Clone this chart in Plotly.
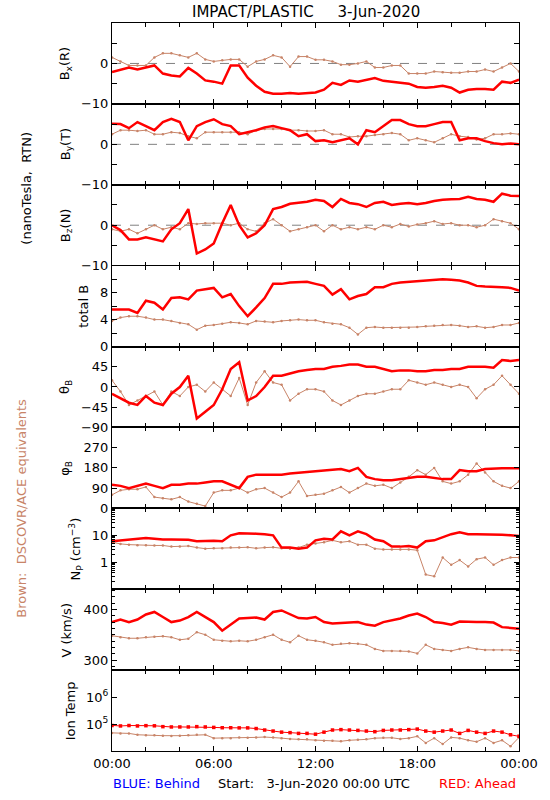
import plotly.graph_objects as go
from plotly.subplots import make_subplots

# ---------------- data (30-minute samples) -------------
HOURS = [i / 2 for i in range(49)]
X_TICKS = [0, 6, 12, 18, 24]
X_LABELS = ["00:00", "06:00", "12:00", "18:00", "00:00"]
X_MINOR = [2, 4, 8, 10, 14, 16, 20, 22]

BX_RED = [-2.1, -1.5, -1.0, -1.5, -1.0, -0.5, -2.5, -3.0, -3.2, -1.1,
          -2.5, -4.2, -4.5, -5.0, -0.5, -0.5, -3.5, -5.5, -7.0, -7.5,
          -7.5, -7.3, -7.5, -7.4, -7.2, -6.5, -4.8, -5.3, -4.2, -4.5,
          -4.0, -3.6, -4.3, -4.5, -4.8, -5.0, -5.8, -6.0, -5.8, -5.5,
          -6.0, -7.2, -6.5, -6.3, -6.3, -6.5, -4.5, -4.8, -4.0]
BX_BRN = [1.5, 0.5, -0.5, -0.5, -0.5, 1.5, 2.5, 2.5, 2.0, 1.5,
          2.5, 1.0, 0.5, 0.8, 1.0, 1.0, -0.8, 0.5, 1.0, 2.0,
          1.5, -0.8, 1.7, 1.7, 0.9, 0.9, 0.5, -0.3, -0.3, 0.0,
          0.5, -1.0, -1.0, -0.5, -0.5, -2.5, -2.5, -2.5, -2.0, -2.2,
          -2.3, -2.3, -2.0, -2.0, -1.5, -2.0, -1.0, 0.0, -2.0]

BY_RED = [5.1, 5.0, 4.0, 5.5, 4.5, 3.5, 5.5, 6.3, 5.5, 1.0,
          4.5, 5.5, 6.2, 5.0, 4.5, 2.5, 3.0, 3.5, 4.2, 4.5,
          4.0, 3.5, 2.0, 2.5, 0.8, 1.0, 0.5, 1.0, 1.5, 0.0,
          3.5, 3.0, 4.5, 6.0, 6.0, 5.0, 4.5, 4.5, 5.0, 5.5,
          5.5, 1.0, 1.5, 1.5, 0.8, 0.3, 0.0, 0.2, 0.0]
BY_BRN = [2.5, 3.5, 3.5, 3.3, 3.5, 2.5, 2.5, 3.0, 2.8, 2.0,
          1.5, 3.0, 3.0, 3.0, 3.0, 3.0, 2.5, 3.5, 3.8, 3.8,
          3.8, 3.5, 3.5, 3.3, 3.3, 3.5, 2.5, 2.5, 1.8, 2.0,
          2.0, 2.3, 2.5, 2.8, 2.5, 1.0, 1.5, 1.0, 0.5, 1.5,
          2.5, 2.0, 1.8, 1.2, 1.5, 2.5, 2.5, 2.7, 2.5]

BZ_RED = [0.0, -1.2, -3.5, -3.5, -3.0, -3.5, -4.0, -1.0, 0.5, 4.0,
          -7.0, -6.0, -4.5, 0.5, 5.0, 0.0, -3.0, -2.0, 0.0, 4.0,
          4.5, 5.3, 5.5, 5.8, 6.3, 6.0, 4.5, 6.5, 5.5, 5.2,
          4.5, 5.5, 5.8, 5.0, 5.3, 5.5, 5.2, 5.5, 6.0, 6.3,
          6.4, 6.5, 7.0, 6.5, 6.3, 5.8, 7.8, 7.3, 7.2]
BZ_BRN = [-1.0, -1.5, -1.0, -2.0, -1.0, 0.0, -1.0, -0.5, -1.0, 0.5,
          0.3, 0.5, 0.5, 0.5, 0.0, 0.5, -1.0, -1.5, 0.5, 1.5,
          0.0, -1.5, -1.0, -0.5, 0.0, -1.5, 0.0, -1.0, -0.5, -1.0,
          -0.5, -1.0, 0.0, -0.5, 0.3, -0.3, 0.2, 0.5, 1.0, 0.3,
          0.5, 0.0, 0.0, -0.5, 0.0, 1.5, 1.0, 0.5, -1.0]

BT_RED = [5.5, 5.5, 5.5, 5.0, 6.8, 6.5, 5.5, 7.2, 7.3, 7.0,
          8.3, 8.5, 8.7, 7.3, 7.8, 6.0, 4.5, 5.8, 7.2, 9.3,
          9.3, 9.5, 9.6, 9.6, 9.3, 9.0, 7.7, 8.5, 7.0, 7.5,
          7.8, 8.8, 8.8, 9.3, 9.5, 9.6, 9.6, 9.8, 9.8, 10.0,
          9.9, 9.8, 9.5, 9.0, 8.9, 8.9, 8.8, 8.7, 8.3]
BT_BRN = [3.8, 4.3, 4.5, 4.5, 4.3, 4.0, 4.0, 3.8, 3.5, 3.3,
          2.5, 3.1, 3.2, 3.4, 3.6, 3.5, 3.3, 3.8, 3.7, 3.6,
          3.8, 3.9, 4.0, 3.9, 3.9, 3.6, 3.4, 3.3, 2.8, 1.8,
          2.8, 2.9, 2.8, 2.8, 2.8, 2.8, 2.9, 3.0, 3.1, 3.2,
          3.2, 3.1, 2.9, 3.0, 2.8, 2.9, 3.2, 3.2, 3.5]

TH_RED = [-15, -25, -35, -40, -20, -35, -40, -15, 0, 25,
          -70, -55, -40, -5, 40, 55, -30, -20, 0, 25,
          25, 30, 35, 38, 40, 40, 45, 47, 50, 50,
          45, 45, 40, 35, 37, 37, 35, 35, 38, 38,
          40, 40, 45, 45, 45, 43, 60, 58, 60]
TH_BRN = [15, -10, -40, -30, -20, -10, -40, -10, -20, 0,
          5, -10, 10, -5, -20, 20, -40, 10, 35, 10,
          5, -30, -15, -5, -5, -10, -30, -40, -30, -20,
          -15, -15, -10, -5, -5, 15, 10, 5, 10, 5,
          0, 5, 0, -25, -5, 5, 25, 5, -15]

PH_RED = [105, 100, 90, 100, 110, 100, 90, 105, 105, 110,
          110, 115, 120, 120, 105, 90, 140, 150, 150, 150,
          150, 155, 160, 162, 165, 170, 172, 175, 165, 180,
          140, 130, 125, 125, 130, 135, 140, 140, 135, 130,
          130, 170, 165, 165, 175, 178, 178, 178, 178]
PH_BRN = [60, 80, 85, 85, 95, 50, 45, 40, 50, 30,
          20, 10, 70, 80, 80, 90, 70, 85, 90, 70,
          50, 70, 120, 55, 60, 65, 80, 95, 70, 90,
          110, 100, 105, 90, 115, 140, 170, 150, 180, 120,
          110, 120, 150, 200, 160, 120, 100, 90, 120]

NP_RED = [6.0, 6.5, 7.0, 7.5, 8.0, 7.5, 7.0, 7.0, 7.0, 6.8,
          6.0, 6.3, 6.3, 6.0, 10.0, 12.0, 12.0, 11.5, 11.0, 10.0,
          3.5, 3.5, 3.2, 3.5, 6.5, 7.5, 7.0, 14.0, 10.0, 14.0,
          11.0, 7.0, 6.0, 3.8, 3.8, 4.0, 3.5, 6.0, 6.5, 8.5,
          11.0, 13.0, 11.0, 11.0, 11.0, 11.0, 10.5, 10.0, 9.5]
NP_BRN = [5.5, 4.8, 4.5, 4.3, 4.3, 4.2, 4.2, 3.8, 3.8, 4.0,
          3.5, 3.2, 3.3, 3.3, 3.5, 3.5, 3.6, 3.3, 3.5, 3.6,
          3.3, 3.2, 3.5, 4.5, 5.0, 5.5, 6.5, 5.5, 6.0, 4.5,
          4.5, 3.2, 3.0, 3.0, 3.0, 3.0, 2.8, 0.35, 0.3, 1.5,
          0.8, 1.2, 0.7, 1.3, 1.5, 0.8, 1.2, 1.5, 1.5]

V_RED = [375, 380, 375, 380, 390, 395, 385, 375, 378, 385,
         395, 385, 375, 358, 370, 382, 383, 384, 380, 395,
         398, 390, 383, 382, 385, 375, 372, 373, 374, 375,
         370, 368, 375, 378, 382, 388, 392, 385, 375, 373,
         370, 376, 375, 375, 375, 374, 365, 364, 362]
V_BRN = [348, 345, 343, 343, 345, 346, 347, 345, 340, 342,
         355, 350, 340, 338, 337, 338, 337, 340, 345, 350,
         340, 335, 348, 340, 338, 335, 330, 332, 333, 332,
         330, 322, 318, 318, 318, 317, 313, 330, 322, 320,
         318, 322, 325, 322, 320, 320, 320, 320, 318]

T_RED = [89000, 85000, 88000, 85000, 87000, 86000, 80000, 78000, 78000, 78000,
         80000, 78000, 75000, 73000, 73000, 72000, 72000, 68000, 60000, 55000,
         50000, 48000, 45000, 45000, 42000, 50000, 60000, 62000, 60000, 58000,
         55000, 52000, 58000, 60000, 60000, 62000, 65000, 55000, 50000, 55000,
         60000, 45000, 58000, 50000, 45000, 55000, 50000, 40000, 35000]
T_BRN = [47000, 45000, 45000, 40000, 38000, 38000, 37000, 36000, 37000, 38000,
         40000, 40000, 30000, 30000, 30000, 32000, 31000, 32000, 33000, 32000,
         30000, 28000, 27000, 27000, 25000, 24000, 24000, 23000, 25000, 26000,
         27000, 30000, 31000, 31000, 28000, 30000, 35000, 20000, 30000, 18000,
         32000, 30000, 25000, 22000, 30000, 20000, 25000, 15000, 32000]

PANEL_TITLES = ["B<sub>x</sub>(R)", "B<sub>y</sub>(T)", "B<sub>z</sub>(N)", "total B",
                "θ<sub>B</sub>", "φ<sub>B</sub>", "N<sub>P</sub> (cm<sup>−3</sup>)",
                "V (km/s)", "Ion Temp"]

# ---------------- styling ----------------
RED = "#FF0000"
BRN = "rgb(200,132,104)"
FONT = "DejaVu Sans"
W, H = 550, 800
ML, MR, MT, MB = 112, 23, 23, 49
PW = W - ML - MR
PH = H - MT - MB

panels = [
    dict(red=BX_RED, brn=BX_BRN, rng=[-10, 10], tv=[-10, 0], tt=["−10", "0"], minor=[-5, 5, 10], zero=True, tx=65),
    dict(red=BY_RED, brn=BY_BRN, rng=[-10, 10], tv=[-10, 0], tt=["−10", "0"], minor=[-5, 5, 10], zero=True, tx=65),
    dict(red=BZ_RED, brn=BZ_BRN, rng=[-10, 10], tv=[-10, 0], tt=["−10", "0"], minor=[-5, 5, 10], zero=True, tx=65),
    dict(red=BT_RED, brn=BT_BRN, rng=[0, 12], tv=[0, 4, 8], tt=["0", "4", "8"], minor=[2, 6, 10], tx=83),
    dict(red=TH_RED, brn=TH_BRN, rng=[-90, 90], tv=[-90, -45, 0, 45], tt=["−90", "−45", "0", "45"], tx=64),
    dict(red=PH_RED, brn=PH_BRN, rng=[0, 360], tv=[0, 90, 180, 270], tt=["0", "90", "180", "270"], tx=65),
    dict(red=NP_RED, brn=NP_BRN, rng=[-1, 2], log=True, tv=[1, 10], tt=["1", "10"],
         minor=[0.2, 0.3, 0.4, 0.5, 0.6, 0.7, 0.8, 0.9, 2, 3, 4, 5, 6, 7, 8, 9, 20, 30, 40, 50, 60, 70, 80, 90],
         mlen=3, tx=75),
    dict(red=V_RED, brn=V_BRN, rng=[280, 440], tv=[300, 400], tt=["300", "400"],
         minor=[287.5, 312.5, 325, 337.5, 350, 362.5, 375, 387.5, 412.5, 425, 437.5], mlen=3, tx=66),
    dict(red=T_RED, brn=T_BRN, rng=[4, 7], log=True, tv=[1e5, 1e6], tt=["10<sup>5</sup>", "10<sup>6</sup>"], tx=70),
]

fig = make_subplots(rows=9, cols=1, shared_xaxes=True, vertical_spacing=0)

for i, p in enumerate(panels, start=1):
    fig.add_trace(go.Scatter(x=HOURS, y=p["brn"], mode="lines+markers",
                             line=dict(color=BRN, width=1),
                             marker=dict(color=BRN, size=2.5), showlegend=False), row=i, col=1)
    if i == 9:
        fig.add_trace(go.Scatter(x=HOURS, y=p["red"], mode="lines+markers",
                                 line=dict(color=RED, width=1),
                                 marker=dict(color=RED, size=3.5, symbol="square"), showlegend=False), row=i, col=1)
    else:
        fig.add_trace(go.Scatter(x=HOURS, y=p["red"], mode="lines",
                                 line=dict(color=RED, width=2.5), showlegend=False), row=i, col=1)
    if p.get("zero"):
        fig.add_hline(y=0, line=dict(color="gray", width=1, dash="dash"), layer="below", row=i, col=1)

    yax = dict(range=p["rng"], tickmode="array", tickvals=p["tv"], ticktext=p["tt"],
               ticks="inside", ticklen=5, tickcolor="black", showline=True, linecolor="black",
               linewidth=1, mirror="ticks", showgrid=False, zeroline=False,
               tickfont=dict(family=FONT, size=13, color="black"))
    if p.get("log"):
        yax["type"] = "log"
    if p.get("minor"):
        yax["minor"] = dict(tickmode="array", tickvals=p["minor"], ticks="inside", ticklen=p.get("mlen", 5),
                            tickcolor="black", showgrid=False)
    fig.update_yaxes(row=i, col=1, **yax)
    fig.update_xaxes(row=i, col=1, range=[0, 24], tickmode="array", tickvals=X_TICKS,
                     ticktext=X_LABELS, showticklabels=(i == 9), ticks="inside", ticklen=5,
                     tickcolor="black", showline=True, linecolor="black", linewidth=1,
                     mirror="ticks", showgrid=False, zeroline=False,
                     minor=dict(tickmode="array", tickvals=X_MINOR, ticks="inside", ticklen=4,
                                tickcolor="black", showgrid=False),
                     tickfont=dict(family=FONT, size=13, color="black"))


def px_x(px):
    return (px - ML) / PW


def px_y(py):
    return (H - MB - py) / PH


annots = []
row_h = PH / 9
for i, p in enumerate(panels):
    cy = MT + row_h * (i + 0.5)
    annots.append(dict(text=PANEL_TITLES[i], x=px_x(p["tx"]), y=px_y(cy), xref="paper", yref="paper",
                       textangle=-90, showarrow=False, xanchor="center", yanchor="middle",
                       font=dict(family=FONT, size=13, color="black")))

annots += [
    dict(text="IMPACT/PLASTIC\u00a0\u00a0\u00a0\u00a0\u00a03-Jun-2020", x=px_x(310), y=px_y(12),
         xref="paper", yref="paper", showarrow=False, xanchor="center", yanchor="middle",
         font=dict(family=FONT, size=15, color="black")),
    dict(text="(nanoTesla,\u00a0\u00a0RTN)", x=px_x(25), y=px_y(188), xref="paper", yref="paper",
         textangle=-90, showarrow=False, xanchor="center", yanchor="middle",
         font=dict(family=FONT, size=13, color="black")),
    dict(text="Brown:\u00a0\u00a0DSCOVR/ACE\u00a0equivalents", x=px_x(19), y=px_y(508), xref="paper", yref="paper",
         textangle=-90, showarrow=False, xanchor="center", yanchor="middle",
         font=dict(family=FONT, size=13, color=BRN)),
    dict(text="BLUE:\u00a0Behind", x=px_x(111), y=px_y(783), xref="paper", yref="paper",
         showarrow=False, xanchor="left", yanchor="middle",
         font=dict(family=FONT, size=13, color="#0000FF")),
    dict(text="Start:\u00a0\u00a0\u00a03-Jun-2020\u00a000:00\u00a0UTC", x=px_x(318), y=px_y(783), xref="paper", yref="paper",
         showarrow=False, xanchor="center", yanchor="middle",
         font=dict(family=FONT, size=13, color="black")),
    dict(text="RED:\u00a0Ahead", x=px_x(526), y=px_y(783), xref="paper", yref="paper",
         showarrow=False, xanchor="right", yanchor="middle",
         font=dict(family=FONT, size=13, color=RED)),
]

fig.update_layout(width=W, height=H, margin=dict(l=ML, r=MR, t=MT, b=MB),
                  paper_bgcolor="white", plot_bgcolor="white", showlegend=False,
                  annotations=annots, font=dict(family=FONT, size=13, color="black"))

fig.write_html("out.html", config={"displayModeBar": False},
               post_script="document.body.style.margin='0px';document.body.style.overflow='hidden';")
